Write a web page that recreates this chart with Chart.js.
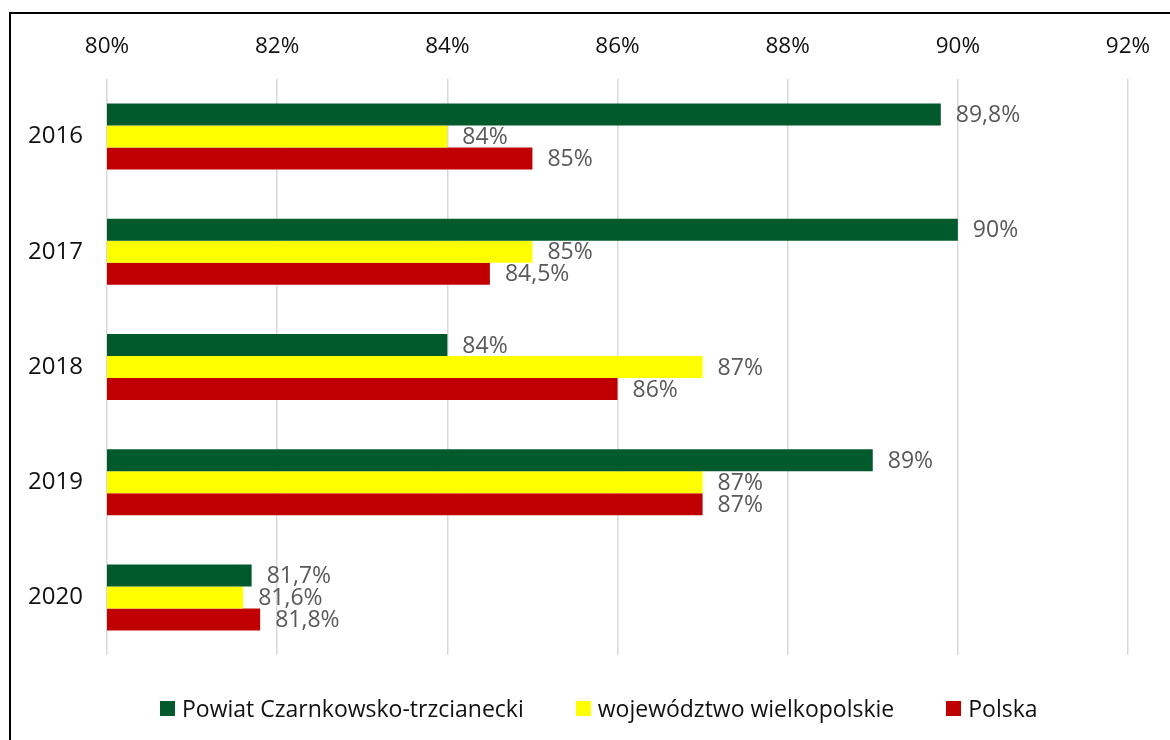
<!DOCTYPE html>
<html lang="pl">
<head>
<meta charset="utf-8">
<script src="https://cdn.jsdelivr.net/npm/chart.js@4/dist/chart.umd.min.js"></script>
<style>
  html, body { margin: 0; padding: 0; background: #fff; }
  #wrap { position: relative; width: 1170px; height: 740px; overflow: hidden; }
  #frame { position: absolute; left: 9px; top: 12px; width: 1200px; height: 800px;
           border-left: 2px solid #000; border-top: 2px solid #000; pointer-events: none; }
  canvas { position: absolute; left: 0; top: 0; }
  #legend { position: absolute; left: 160px; top: 692px; display: flex; align-items: center;
            font-family: "Open Sans", sans-serif; font-size: 23px; color: #111; white-space: nowrap; }
  .item { display: flex; align-items: center; margin-right: 52px; }
  .item:last-child { margin-right: 0; }
  .swatch { width: 15px; height: 15px; margin-right: 7px; }
</style>
</head>
<body>
<div id="wrap">
  <canvas id="chart" width="1170" height="740"></canvas>
  <div id="frame"></div>
  <div id="legend"></div>
</div>
<script>
const years = ['2016', '2017', '2018', '2019', '2020'];
const seriesNames = ['Powiat Czarnkowsko-trzcianecki', 'województwo wielkopolskie', 'Polska'];
const powiat = [89.8, 90, 84, 89, 81.7];
const wojewodztwo = [84, 85, 87, 87, 81.6];
const polska = [85, 84.5, 86, 87, 81.8];
const seriesColors = ['#005A2B', '#FFFF00', '#C00000'];
const axisMin = 80;
const axisMax = 92;
const axisStep = 2;

const FONT = '"Open Sans", sans-serif';

function fmt(v) {
  return String(v).replace('.', ',') + '%';
}

// Value labels to the right of each bar
const valueLabels = {
  id: 'valueLabels',
  afterDatasetsDraw(chart) {
    const ctx = chart.ctx;
    ctx.save();
    ctx.font = '23px ' + FONT;
    ctx.fillStyle = '#595959';
    ctx.textAlign = 'left';
    ctx.textBaseline = 'middle';
    chart.data.datasets.forEach((ds, i) => {
      const meta = chart.getDatasetMeta(i);
      meta.data.forEach((bar, j) => {
        ctx.fillText(fmt(ds.data[j]), bar.x + 15, bar.y + 1);
      });
    });
    ctx.restore();
  }
};

const seriesData = [powiat, wojewodztwo, polska];

new Chart(document.getElementById('chart'), {
  type: 'bar',
  data: {
    labels: years,
    datasets: seriesData.map((d, i) => ({
      label: seriesNames[i],
      data: d,
      backgroundColor: seriesColors[i],
      borderWidth: 0,
      barPercentage: 1,
      categoryPercentage: 0.573
    }))
  },
  options: {
    indexAxis: 'y',
    responsive: false,
    animation: false,
    layout: { padding: { left: 0, right: 42, top: 0, bottom: 85 } },
    plugins: {
      legend: { display: false },
      tooltip: { enabled: false }
    },
    scales: {
      x: {
        position: 'top',
        min: axisMin,
        max: axisMax,
        ticks: {
          stepSize: axisStep,
          padding: 19,
          color: '#111',
          font: { family: FONT, size: 22.5 },
          callback: v => v + '%'
        },
        grid: { color: '#d9d9d9', lineWidth: 1.5, drawTicks: false },
        border: { display: false },
        afterFit: s => { s.height = 79; }
      },
      y: {
        ticks: {
          padding: 24,
          color: '#111',
          font: { family: FONT, size: 24 }
        },
        grid: { display: false, drawTicks: false },
        border: { display: false },
        afterFit: s => { s.width = 107; }
      }
    }
  },
  plugins: [valueLabels]
});

// Legend
const legend = document.getElementById('legend');
seriesNames.forEach((name, i) => {
  const item = document.createElement('div');
  item.className = 'item';
  const sw = document.createElement('span');
  sw.className = 'swatch';
  sw.style.background = seriesColors[i];
  const tx = document.createElement('span');
  tx.textContent = name;
  item.appendChild(sw);
  item.appendChild(tx);
  legend.appendChild(item);
});
</script>
</body>
</html>
